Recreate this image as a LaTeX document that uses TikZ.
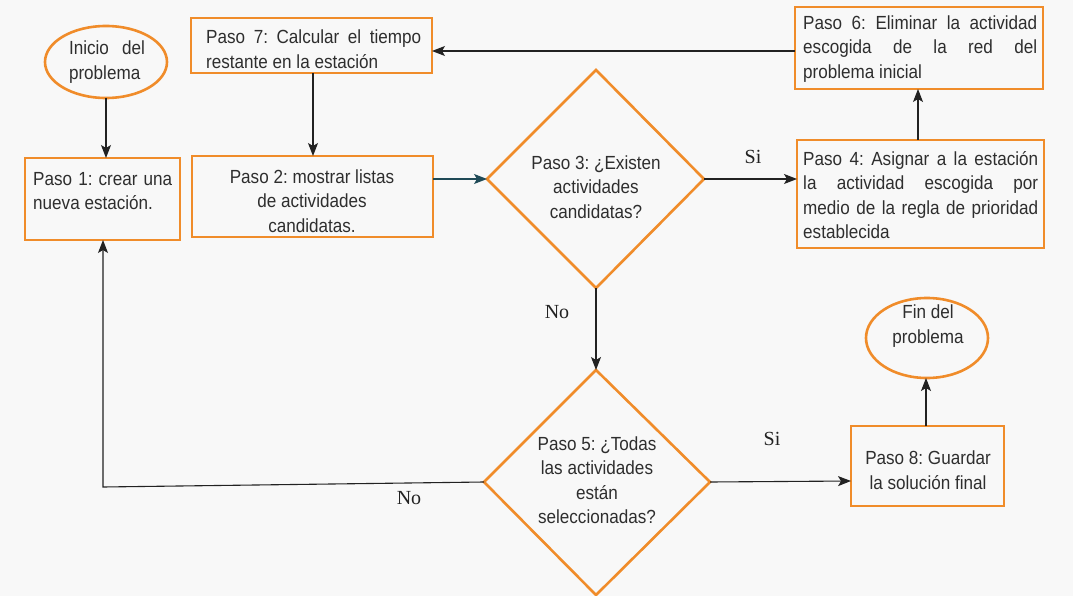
\documentclass[tikz,border=0pt]{standalone}
\usepackage{fontspec}
\setmainfont{Liberation Sans}[FakeStretch=0.9]
\newfontfamily\labfont{Liberation Serif}
\usetikzlibrary{arrows.meta}
\definecolor{orng}{HTML}{F08C2A}
\definecolor{bg}{HTML}{F8F8F8}
\definecolor{ln}{HTML}{222222}
\definecolor{teal}{HTML}{1F4A57}
\definecolor{txt}{HTML}{2E2E2E}
\frenchspacing
\begin{document}
\begin{tikzpicture}[x=1pt,y=-1pt,
  box/.style={draw=orng,line width=2.6pt,fill=bg},
  txtn/.style={inner sep=0pt,align=left,text=txt,font=\fontsize{19}{24.5}\selectfont},
  txtc/.style={inner sep=0pt,align=center,text=txt,font=\fontsize{19}{24.5}\selectfont},
  lab/.style={inner sep=0pt,text=ln,font=\labfont\fontsize{20}{22}\selectfont},
  arr/.style={draw=ln,line width=1.1pt,-{Stealth[length=13pt,width=10pt,inset=3pt]}}]
\useasboundingbox (0,0) rectangle (1073,596);
\fill[bg] (0,0) rectangle (1073,596);
% boxes
\draw[box] (191,18) rectangle (432,73) coordinate[pos=.5] (p7);
\draw[box] (25,158) rectangle (180,240) coordinate[pos=.5] (p1);
\draw[box] (192,156) rectangle (433,237) coordinate[pos=.5] (p2);
\draw[box] (795,7) rectangle (1043,89) coordinate[pos=.5] (p6);
\draw[box] (797,140) rectangle (1044,248) coordinate[pos=.5] (p4);
\draw[box] (851,426) rectangle (1004,506) coordinate[pos=.5] (p8);
% ellipses
\draw[box] (106,62) ellipse [x radius=61, y radius=36];
\draw[box] (927,338) ellipse [x radius=61, y radius=40];
\coordinate (iniS) at (106,98);
\coordinate (finS) at (926,378);
% diamonds
\coordinate (d3t) at (596,70); \coordinate (d3b) at (596,288);
\coordinate (d3l) at (487,179); \coordinate (d3r) at (704,179);
\draw[box] (d3t) -- (d3r) -- (d3b) -- (d3l) -- cycle;
\coordinate (d5t) at (596,370); \coordinate (d5b) at (596,595);
\coordinate (d5l) at (484,482); \coordinate (d5r) at (710,482);
\draw[box] (d5t) -- (d5r) -- (d5b) -- (d5l) -- cycle;
% texts
\node[txtc] (tini) at (107,62) {\makebox[76pt][s]{Inicio del}\\\makebox[76pt][l]{problema}};
\node[txtn,anchor=west] (t7) at (206,49) {\makebox[215pt][s]{Paso 7: Calcular el tiempo}\\restante en la estación};
\node[txtn,anchor=west] (t1) at (33,191) {\makebox[139pt][s]{Paso 1: crear una}\\nueva estación.};
\node[txtc] (t2) at (312,201) {Paso 2: mostrar listas\\de actividades\\candidatas.};
\node[txtn,anchor=west] (t6) at (803,49) {\makebox[234pt][s]{Paso 6: Eliminar la actividad}\\\makebox[234pt][s]{escogida de la red del}\\problema inicial};
\node[txtn,anchor=west] (t4) at (803,195) {\makebox[235pt][s]{Paso 4: Asignar a la estación}\\\makebox[235pt][s]{la actividad escogida por}\\\makebox[235pt][s]{medio de la regla de prioridad}\\establecida};
\node[txtc] (t3) at (596,187) {Paso 3: ¿Existen\\actividades\\candidatas?};
\node[txtc] (t5) at (597,480) {Paso 5: ¿Todas\\las actividades\\están\\seleccionadas?};
\node[txtc] (t8) at (928,470) {Paso 8: Guardar\\la solución final};
\node[txtc] (tfin) at (928,326) {Fin del\\problema};
% labels
\node[lab] (lsi1) at (753,157) {Si};
\node[lab] (lno1) at (557,312) {No};
\node[lab] (lsi2) at (772,439) {Si};
\node[lab] (lno2) at (409,498) {No};
% connectors
\draw[arr] (iniS) -- (106,158);
\draw[arr] (313,73) -- (313,156);
\draw[arr,draw=teal] (433,179) -- (d3l);
\draw[arr] (d3r) -- (797,179);
\draw[arr] (918,140) -- (918,89);
\draw[arr] (795,51) -- (432,51);
\draw[arr] (d3b) -- (d5t);
\draw[arr] (d5l) -- (103,487) -- (103,240);
\draw[arr] (d5r) -- (851,481);
\draw[arr] (926,426) -- (finS);
\end{tikzpicture}
\end{document}
